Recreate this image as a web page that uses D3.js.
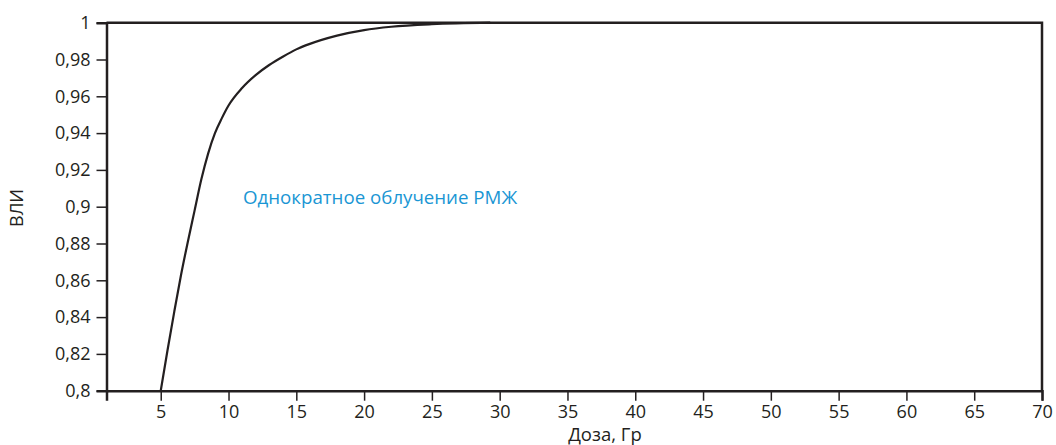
<!DOCTYPE html>
<html>
<head>
<meta charset="utf-8">
<script src="https://cdn.jsdelivr.net/npm/d3@7"></script>
<style>
  body { margin: 0; background: #fff; }
  svg text { font-family: "Open Sans", "Noto Sans", sans-serif; fill: #231f20; }
</style>
</head>
<body>
<svg id="chart" width="1056" height="445"></svg>
<script>
// dose (Gy) and VLI values
const doses = [5, 5.5, 6, 6.5, 7, 7.5, 8, 8.5, 9, 9.5, 10, 11, 12, 13, 14, 15, 16, 18, 20, 22, 25, 29.3];
const vli = [0.800, 0.822, 0.843, 0.863, 0.881, 0.898, 0.915, 0.929, 0.940, 0.948, 0.955, 0.9645,
             0.9715, 0.977, 0.9815, 0.9855, 0.9885, 0.993, 0.996, 0.9978, 0.9992, 1.0];
const xTicks = [5, 10, 15, 20, 25, 30, 35, 40, 45, 50, 55, 60, 65, 70];
const yTicks = [0.8, 0.82, 0.84, 0.86, 0.88, 0.9, 0.92, 0.94, 0.96, 0.98, 1];
const curveLabel = "Однократное облучение РМЖ";
const xTitle = "Доза, Гр";
const yTitle = "ВЛИ";

const margin = {left: 106.5, right: 1042, top: 22.7, bottom: 390.7};
const svg = d3.select("#chart");

const x = d3.scaleLinear().domain([1, 70]).range([margin.left, margin.right]);
const y = d3.scaleLinear().domain([0.8, 1]).range([margin.bottom, margin.top]);
const fmt = d => String(d).replace(".", ",");

//Frame: top and right borders
svg.append("path")
  .attr("d", `M${margin.left},${margin.top}H${margin.right}V${margin.bottom}`)
  .attr("fill", "none")
  .attr("stroke", "#231f20")
  .attr("stroke-width", 2.5);

//Y axis
const gy = svg.append("g")
  .attr("transform", `translate(${margin.left},0)`)
  .call(d3.axisLeft(y).tickValues(yTicks).tickFormat(fmt).tickSize(10).tickPadding(6));
gy.select(".domain").attr("stroke", "#231f20").attr("stroke-width", 2.5);
gy.selectAll(".tick line").attr("stroke", "#231f20").attr("stroke-width", 1.5);
gy.selectAll(".tick text").style("font-size", "18px").attr("fill", "#231f20");

//X axis
const gx = svg.append("g")
  .attr("transform", `translate(0,${margin.bottom})`)
  .call(d3.axisBottom(x).tickValues(xTicks).tickSize(10).tickPadding(5));
gx.select(".domain").attr("stroke", "#231f20").attr("stroke-width", 2.5);
gx.selectAll(".tick line").attr("stroke", "#231f20").attr("stroke-width", 1.5);
gx.selectAll(".tick text").style("font-size", "18px").attr("fill", "#231f20");

//Curve
const line = d3.line()
  .x((d, i) => x(doses[i]))
  .y(d => y(d))
  .curve(d3.curveMonotoneX);

svg.append("path")
  .datum(vli)
  .attr("d", line)
  .attr("fill", "none")
  .attr("stroke", "#231f20")
  .attr("stroke-width", 2.2);

svg.append("text")
  .attr("x", 243)
  .attr("y", 204)
  .text(curveLabel)
  .style("font-size", "18.7px")
  .style("fill", "#1a96d4");

svg.append("text")
  .attr("x", 605)
  .attr("y", 441)
  .attr("text-anchor", "middle")
  .text(xTitle)
  .style("font-size", "18.5px");

svg.append("text")
  .attr("transform", `translate(23,208) rotate(-90)`)
  .attr("text-anchor", "middle")
  .text(yTitle)
  .style("font-size", "18px");
</script>
</body>
</html>
